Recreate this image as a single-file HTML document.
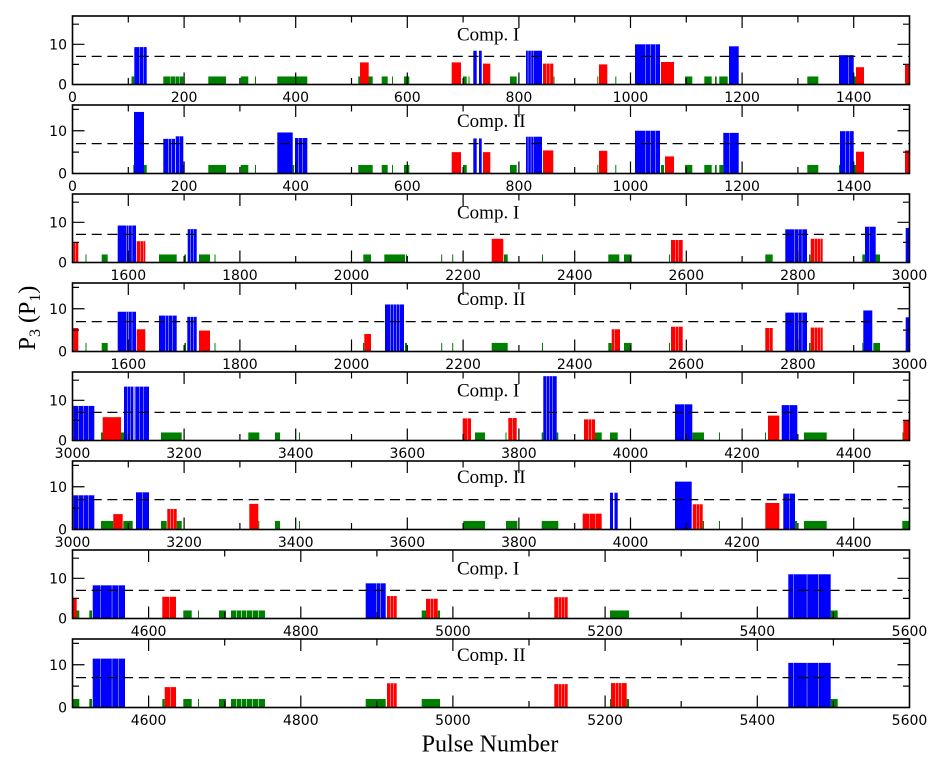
<!DOCTYPE html>
<html><head><meta charset="utf-8"><style>
html,body{margin:0;padding:0;background:#fff;}
svg{display:block;}
.tk{font-family:"DejaVu Sans","Liberation Sans",sans-serif;font-size:14px;fill:#000;}
.cp{font-family:"Liberation Serif",serif;font-size:19px;fill:#000;}
.lb{font-family:"Liberation Serif",serif;fill:#000;}
</style></head><body>
<svg width="937" height="763" viewBox="0 0 937 763" xmlns="http://www.w3.org/2000/svg">
<defs>
<path id="tA" fill="none" stroke="#000" stroke-width="1.2" d="M184.1 0v12M295.7 0v12M407.3 0v12M518.9 0v12M630.5 0v12M742.1 0v12M853.7 0v12M128.3 0v6.5M239.9 0v6.5M351.5 0v6.5M463.1 0v6.5M574.7 0v6.5M686.3 0v6.5M797.9 0v6.5M184.1 68.5v-12M295.7 68.5v-12M407.3 68.5v-12M518.9 68.5v-12M630.5 68.5v-12M742.1 68.5v-12M853.7 68.5v-12M128.3 68.5v-6.5M239.9 68.5v-6.5M351.5 68.5v-6.5M463.1 68.5v-6.5M574.7 68.5v-6.5M686.3 68.5v-6.5M797.9 68.5v-6.5"/>
<path id="tB" fill="none" stroke="#000" stroke-width="1.2" d="M128.3 0v12M239.9 0v12M351.5 0v12M463.1 0v12M574.7 0v12M686.3 0v12M797.9 0v12M184.1 0v6.5M295.7 0v6.5M407.3 0v6.5M518.9 0v6.5M630.5 0v6.5M742.1 0v6.5M853.7 0v6.5M128.3 68.5v-12M239.9 68.5v-12M351.5 68.5v-12M463.1 68.5v-12M574.7 68.5v-12M686.3 68.5v-12M797.9 68.5v-12M184.1 68.5v-6.5M295.7 68.5v-6.5M407.3 68.5v-6.5M518.9 68.5v-6.5M630.5 68.5v-6.5M742.1 68.5v-6.5M853.7 68.5v-6.5"/>
<path id="tC" fill="none" stroke="#000" stroke-width="1.2" d="M148.6 0v12M300.8 0v12M452.9 0v12M605.1 0v12M757.3 0v12M224.7 0v6.5M376.9 0v6.5M529 0v6.5M681.2 0v6.5M833.4 0v6.5M148.6 68.5v-12M300.8 68.5v-12M452.9 68.5v-12M605.1 68.5v-12M757.3 68.5v-12M224.7 68.5v-6.5M376.9 68.5v-6.5M529 68.5v-6.5M681.2 68.5v-6.5M833.4 68.5v-6.5"/>
<g id="yI">
<line x1="72.5" y1="40.36" x2="909.5" y2="40.36" stroke="#000" stroke-width="1.3" stroke-dasharray="10 5.7" stroke-dashoffset="12.2"/>
<path fill="none" stroke="#000" stroke-width="1.2" d="M72.5 28.3h12M72.5 48.4h6.5M72.5 8.2h6.5M909.5 28.3h-12M909.5 48.4h-6.5M909.5 8.2h-6.5"/>
<rect x="72.5" y="0" width="837" height="68.5" fill="none" stroke="#000" stroke-width="1.6"/>
</g>
<g id="yII">
<line x1="72.5" y1="38.6" x2="909.5" y2="38.6" stroke="#000" stroke-width="1.3" stroke-dasharray="10 5.7" stroke-dashoffset="12.2"/>
<path fill="none" stroke="#000" stroke-width="1.2" d="M72.5 25.75h12M72.5 47.1h6.5M72.5 4.4h6.5M909.5 25.75h-12M909.5 47.1h-6.5M909.5 4.4h-6.5"/>
<rect x="72.5" y="0" width="837" height="68.5" fill="none" stroke="#000" stroke-width="1.6"/>
</g>
</defs>

<!-- Panel 1 -->
<g transform="translate(0,84.5) scale(1,-4.02)">
<g fill="#008000">
<rect x="131.5" y="0" width="2.8" height="2"/><rect x="163.3" y="0" width="20" height="2"/><rect x="208.3" y="0" width="17.7" height="2"/><rect x="240.7" y="0" width="7.6" height="2"/><rect x="255" y="0" width="1" height="2"/><rect x="277.3" y="0" width="30" height="2"/><rect x="358.3" y="0" width="14.4" height="2"/><rect x="381.7" y="0" width="6" height="2"/><rect x="392" y="0" width="1" height="2"/><rect x="404" y="0" width="5.3" height="2"/><rect x="463" y="0" width="3.7" height="2"/><rect x="468.5" y="0" width="1" height="2"/><rect x="510" y="0" width="6.7" height="2"/><rect x="553.5" y="0" width="1" height="2"/><rect x="597.3" y="0" width="1" height="2"/><rect x="615.3" y="0" width="1" height="2"/><rect x="685" y="0" width="7.3" height="2"/><rect x="704.3" y="0" width="7.4" height="2"/><rect x="715" y="0" width="1.7" height="2"/><rect x="719.3" y="0" width="8.4" height="2"/><rect x="807.3" y="0" width="11" height="2"/><rect x="853.3" y="0" width="2.7" height="2"/>
</g>
<g fill="#ff0000">
<rect x="360" y="0" width="8.7" height="5.5"/><rect x="451.7" y="0" width="9.3" height="5.5"/><rect x="483" y="0" width="7.3" height="5.2"/><rect x="543" y="0" width="10.3" height="5.2"/><rect x="599" y="0" width="8.3" height="5"/><rect x="661" y="0" width="13" height="5.6"/><rect x="856" y="0" width="8" height="4.3"/><rect x="905" y="0" width="4.3" height="5"/>
</g>
<g fill="#0000ff">
<rect x="134.3" y="0" width="12.4" height="9.3"/><rect x="473.3" y="0" width="3.4" height="8.4"/><rect x="479" y="0" width="2.7" height="8.4"/><rect x="526" y="0" width="16" height="8.4"/><rect x="635" y="0" width="25" height="10"/><rect x="729" y="0" width="9.7" height="9.5"/><rect x="839" y="0" width="14.7" height="7.3"/>
</g>
<g fill="#fff" opacity="0.6">
<rect x="139.3" y="0" width="0.7" height="9.3"/><rect x="143.3" y="0" width="0.7" height="9.3"/><rect x="527.7" y="0" width="0.7" height="8.4"/><rect x="530.7" y="0" width="0.7" height="8.4"/><rect x="533.3" y="0" width="0.7" height="8.4"/><rect x="645" y="0" width="0.7" height="10"/><rect x="650" y="0" width="0.7" height="10"/><rect x="655" y="0" width="0.7" height="10"/><rect x="848" y="0" width="0.7" height="7.3"/><rect x="546" y="0" width="0.7" height="5.2"/><rect x="549.5" y="0" width="0.7" height="5.2"/><rect x="170" y="0" width="0.7" height="2"/><rect x="175" y="0" width="0.7" height="2"/><rect x="179" y="0" width="0.7" height="2"/>
</g>
</g>

<!-- Panel 2 -->
<g transform="translate(0,173.5) scale(1,-4.275)">
<g fill="#008000">
<rect x="133.3" y="0" width="13.4" height="2"/><rect x="182.5" y="0" width="1" height="2"/><rect x="208.3" y="0" width="17.7" height="2"/><rect x="240.7" y="0" width="7.6" height="2"/><rect x="255" y="0" width="1" height="2"/><rect x="292.7" y="0" width="1.5" height="2"/><rect x="358.3" y="0" width="14.4" height="2"/><rect x="381.7" y="0" width="6" height="2"/><rect x="392" y="0" width="1" height="2"/><rect x="404" y="0" width="5.3" height="2"/><rect x="463" y="0" width="3.7" height="2"/><rect x="510" y="0" width="6.7" height="2"/><rect x="597.3" y="0" width="1" height="2"/><rect x="615.3" y="0" width="1" height="2"/><rect x="661" y="0" width="3" height="2"/><rect x="685" y="0" width="7.3" height="2"/><rect x="704.3" y="0" width="7.4" height="2"/><rect x="715" y="0" width="1.7" height="2"/><rect x="719.3" y="0" width="4" height="2"/><rect x="807.3" y="0" width="11" height="2"/><rect x="839" y="0" width="1" height="2"/><rect x="853.3" y="0" width="2.7" height="2"/>
</g>
<g fill="#ff0000">
<rect x="451.7" y="0" width="9.3" height="5"/><rect x="483" y="0" width="7.3" height="5"/><rect x="543" y="0" width="10.3" height="5.4"/><rect x="599" y="0" width="8.3" height="5.3"/><rect x="665" y="0" width="9" height="4"/><rect x="856" y="0" width="8" height="5.1"/><rect x="905" y="0" width="4.3" height="5.4"/>
</g>
<g fill="#0000ff">
<rect x="134" y="0" width="10" height="14.4"/><rect x="163.3" y="0" width="11.7" height="8.1"/><rect x="175.7" y="0" width="7.6" height="8.7"/><rect x="277.3" y="0" width="15.4" height="9.6"/><rect x="295" y="0" width="12.3" height="8.3"/><rect x="473.3" y="0" width="3.4" height="8.2"/><rect x="479" y="0" width="2.7" height="8.2"/><rect x="526" y="0" width="16" height="8.6"/><rect x="635" y="0" width="25" height="10"/><rect x="723.3" y="0" width="15.4" height="9.5"/><rect x="840" y="0" width="13.7" height="9.9"/>
</g>
<g fill="#fff" opacity="0.6">
<rect x="168" y="0" width="0.8" height="8.1"/><rect x="171" y="0" width="0.8" height="8.1"/><rect x="179" y="0" width="0.7" height="8.7"/><rect x="527.7" y="0" width="0.7" height="8.6"/><rect x="530.7" y="0" width="0.7" height="8.6"/><rect x="533.3" y="0" width="0.7" height="8.6"/><rect x="645" y="0" width="0.7" height="10"/><rect x="650" y="0" width="0.7" height="10"/><rect x="655" y="0" width="0.7" height="10"/><rect x="729" y="0" width="0.7" height="9.5"/><rect x="845" y="0" width="0.7" height="9.9"/><rect x="849" y="0" width="0.7" height="9.9"/><rect x="298" y="0" width="0.7" height="8.3"/><rect x="302" y="0" width="0.7" height="8.3"/>
</g>
</g>

<!-- Panel 3 -->
<g transform="translate(0,262.5) scale(1,-4.02)">
<g fill="#008000">
<rect x="85.5" y="0" width="1" height="2"/><rect x="101.7" y="0" width="6" height="2"/><rect x="159" y="0" width="17.7" height="2"/><rect x="184.3" y="0" width="1.7" height="2"/><rect x="199" y="0" width="11" height="2"/><rect x="214.5" y="0" width="1" height="2"/><rect x="363.3" y="0" width="7.7" height="2"/><rect x="384.3" y="0" width="20.7" height="2"/><rect x="406" y="0" width="1" height="2"/><rect x="441.2" y="0" width="1" height="2"/><rect x="452.2" y="0" width="1" height="2"/><rect x="504" y="0" width="3.7" height="2"/><rect x="542" y="0" width="1" height="2"/><rect x="608.3" y="0" width="11" height="2"/><rect x="624" y="0" width="7.7" height="2"/><rect x="669" y="0" width="1" height="2"/><rect x="765.3" y="0" width="7.4" height="2"/><rect x="809" y="0" width="1.5" height="2"/><rect x="862.3" y="0" width="17.7" height="2"/>
</g>
<g fill="#ff0000">
<rect x="73.3" y="0" width="5" height="5"/><rect x="136.7" y="0" width="8.6" height="5.3"/><rect x="491.7" y="0" width="11.6" height="5.9"/><rect x="671" y="0" width="11.7" height="5.6"/><rect x="810.7" y="0" width="12" height="5.9"/>
</g>
<g fill="#0000ff">
<rect x="117.7" y="0" width="18.3" height="9.2"/><rect x="187.7" y="0" width="9" height="8.3"/><rect x="785.3" y="0" width="21.7" height="8.25"/><rect x="865" y="0" width="10.7" height="8.9"/><rect x="905.7" y="0" width="3.8" height="8.6"/>
</g>
<g fill="#fff" opacity="0.6">
<rect x="126" y="0" width="0.7" height="9.2"/><rect x="128.3" y="0" width="0.7" height="9.2"/><rect x="131.7" y="0" width="0.7" height="9.2"/><rect x="190" y="0" width="0.7" height="8.3"/><rect x="193" y="0" width="0.7" height="8.3"/><rect x="794.3" y="0" width="0.7" height="8.25"/><rect x="798.3" y="0" width="0.7" height="8.25"/><rect x="801.7" y="0" width="0.7" height="8.25"/><rect x="869" y="0" width="0.7" height="8.9"/><rect x="675" y="0" width="0.7" height="5.6"/><rect x="678" y="0" width="0.7" height="5.6"/><rect x="814" y="0" width="0.7" height="5.9"/><rect x="817" y="0" width="0.7" height="5.9"/><rect x="820" y="0" width="0.7" height="5.9"/><rect x="140" y="0" width="0.7" height="5.3"/><rect x="143" y="0" width="0.7" height="5.3"/><rect x="75" y="0" width="0.7" height="5"/>
</g>
</g>

<!-- Panel 4 -->
<g transform="translate(0,351.5) scale(1,-4.275)">
<g fill="#008000">
<rect x="85.5" y="0" width="1" height="2"/><rect x="101.7" y="0" width="6" height="2"/><rect x="184.3" y="0" width="1.7" height="2"/><rect x="214.5" y="0" width="1" height="2"/><rect x="363" y="0" width="1.3" height="2"/><rect x="405" y="0" width="2" height="2"/><rect x="441.2" y="0" width="1" height="2"/><rect x="452.2" y="0" width="1" height="2"/><rect x="491.7" y="0" width="16" height="2"/><rect x="542" y="0" width="1" height="2"/><rect x="608.3" y="0" width="3.4" height="2"/><rect x="624" y="0" width="7.7" height="2"/><rect x="669" y="0" width="1" height="2"/><rect x="809" y="0" width="1.5" height="2"/><rect x="862.3" y="0" width="1" height="2"/><rect x="873.3" y="0" width="6.7" height="2"/>
</g>
<g fill="#ff0000">
<rect x="73.3" y="0" width="5" height="5.5"/><rect x="136.7" y="0" width="8.6" height="5.2"/><rect x="199" y="0" width="11" height="4.9"/><rect x="364.3" y="0" width="6.7" height="4.1"/><rect x="611.7" y="0" width="8.3" height="5.2"/><rect x="671" y="0" width="11.7" height="5.8"/><rect x="765.3" y="0" width="7.4" height="5.5"/><rect x="810.7" y="0" width="12" height="5.6"/>
</g>
<g fill="#0000ff">
<rect x="117.7" y="0" width="18.3" height="9.3"/><rect x="159" y="0" width="17.7" height="8.4"/><rect x="187.3" y="0" width="9.4" height="8.1"/><rect x="385" y="0" width="19" height="11"/><rect x="785.3" y="0" width="21.7" height="9.1"/><rect x="863.3" y="0" width="9" height="9.6"/><rect x="905.7" y="0" width="3.8" height="8"/>
</g>
<g fill="#fff" opacity="0.6">
<rect x="126" y="0" width="0.7" height="9.3"/><rect x="128.3" y="0" width="0.7" height="9.3"/><rect x="131.7" y="0" width="0.7" height="9.3"/><rect x="165" y="0" width="0.7" height="8.4"/><rect x="168" y="0" width="0.7" height="8.4"/><rect x="172" y="0" width="0.7" height="8.4"/><rect x="190" y="0" width="0.7" height="8.1"/><rect x="193" y="0" width="0.7" height="8.1"/><rect x="390" y="0" width="0.7" height="11"/><rect x="393" y="0" width="0.7" height="11"/><rect x="396" y="0" width="0.7" height="11"/><rect x="399" y="0" width="0.7" height="11"/><rect x="794.3" y="0" width="0.7" height="9.1"/><rect x="798.3" y="0" width="0.7" height="9.1"/><rect x="801.7" y="0" width="0.7" height="9.1"/><rect x="675" y="0" width="0.7" height="5.8"/><rect x="678" y="0" width="0.7" height="5.8"/><rect x="814" y="0" width="0.7" height="5.6"/><rect x="817" y="0" width="0.7" height="5.6"/><rect x="820" y="0" width="0.7" height="5.6"/><rect x="614" y="0" width="0.7" height="5.2"/><rect x="769" y="0" width="0.7" height="5.5"/>
</g>
</g>

<!-- Panel 5 -->
<g transform="translate(0,440.5) scale(1,-4.02)">
<g fill="#008000">
<rect x="101" y="0" width="2.3" height="2"/><rect x="121" y="0" width="3" height="2"/><rect x="161" y="0" width="20.7" height="2"/><rect x="248.3" y="0" width="11" height="2"/><rect x="275" y="0" width="5" height="2"/><rect x="299" y="0" width="1" height="2"/><rect x="475" y="0" width="10" height="2"/><rect x="505.5" y="0" width="1" height="2"/><rect x="541.7" y="0" width="1.6" height="2"/><rect x="556.7" y="0" width="1.6" height="2"/><rect x="595" y="0" width="6.7" height="2"/><rect x="610" y="0" width="7.7" height="2"/><rect x="692.3" y="0" width="11.7" height="2"/><rect x="719" y="0" width="1" height="2"/><rect x="765" y="0" width="1" height="2"/><rect x="804" y="0" width="22.7" height="2"/><rect x="902.5" y="0" width="1" height="2"/>
</g>
<g fill="#ff0000">
<rect x="102.7" y="0" width="18.3" height="5.8"/><rect x="462.7" y="0" width="8.3" height="5.5"/><rect x="508.3" y="0" width="8.4" height="5.6"/><rect x="584" y="0" width="11" height="5.25"/><rect x="768" y="0" width="11.3" height="6.2"/><rect x="903.3" y="0" width="6" height="5"/>
</g>
<g fill="#0000ff">
<rect x="73.3" y="0" width="21" height="8.6"/><rect x="124" y="0" width="25" height="13.4"/><rect x="543.3" y="0" width="13.4" height="16"/><rect x="675" y="0" width="17.3" height="9"/><rect x="781.7" y="0" width="15.6" height="8.8"/>
</g>
<g fill="#fff" opacity="0.6">
<rect x="78" y="0" width="0.7" height="8.6"/><rect x="83" y="0" width="0.7" height="8.6"/><rect x="88" y="0" width="0.7" height="8.6"/><rect x="127" y="0" width="0.7" height="13.4"/><rect x="130" y="0" width="0.7" height="13.4"/><rect x="133" y="0" width="2.5" height="13.4"/><rect x="139" y="0" width="0.7" height="13.4"/><rect x="143" y="0" width="0.7" height="13.4"/><rect x="546" y="0" width="0.7" height="16"/><rect x="549" y="0" width="0.7" height="16"/><rect x="552" y="0" width="0.7" height="16"/><rect x="684" y="0" width="0.7" height="9"/><rect x="789" y="0" width="0.7" height="8.8"/><rect x="467" y="0" width="0.7" height="5.5"/><rect x="512" y="0" width="0.7" height="5.6"/><rect x="588" y="0" width="0.7" height="5.25"/><rect x="591" y="0" width="0.7" height="5.25"/>
</g>
</g>

<!-- Panel 6 -->
<g transform="translate(0,529.5) scale(1,-4.275)">
<g fill="#008000">
<rect x="101" y="0" width="12.3" height="2"/><rect x="123.3" y="0" width="9.4" height="2"/><rect x="161" y="0" width="5.7" height="2"/><rect x="176.7" y="0" width="5" height="2"/><rect x="258.3" y="0" width="1" height="2"/><rect x="275" y="0" width="5" height="2"/><rect x="299" y="0" width="1" height="2"/><rect x="463.3" y="0" width="21.7" height="2"/><rect x="506" y="0" width="11.3" height="2"/><rect x="541.7" y="0" width="16.6" height="2"/><rect x="702.7" y="0" width="1.3" height="2"/><rect x="719" y="0" width="1" height="2"/><rect x="795" y="0" width="2" height="2"/><rect x="804" y="0" width="22.7" height="2"/><rect x="902.3" y="0" width="7" height="2"/>
</g>
<g fill="#ff0000">
<rect x="113.3" y="0" width="9.4" height="3.6"/><rect x="167.3" y="0" width="9.4" height="4.8"/><rect x="249.3" y="0" width="9" height="6"/><rect x="582.7" y="0" width="19" height="3.7"/><rect x="692.7" y="0" width="10" height="5.9"/><rect x="765.3" y="0" width="14" height="6.2"/>
</g>
<g fill="#0000ff">
<rect x="73.3" y="0" width="21" height="8"/><rect x="136" y="0" width="13" height="8.7"/><rect x="610" y="0" width="3" height="8.6"/><rect x="614.5" y="0" width="3.2" height="8.6"/><rect x="675" y="0" width="16.7" height="11.2"/><rect x="783.3" y="0" width="11.7" height="8.4"/>
</g>
<g fill="#fff" opacity="0.6">
<rect x="78" y="0" width="0.7" height="8"/><rect x="83" y="0" width="0.7" height="8"/><rect x="88" y="0" width="0.7" height="8"/><rect x="142" y="0" width="0.7" height="8.7"/><rect x="589" y="0" width="0.7" height="3.7"/><rect x="595" y="0" width="0.7" height="3.7"/><rect x="170" y="0" width="0.7" height="4.8"/><rect x="173" y="0" width="0.7" height="4.8"/><rect x="696" y="0" width="0.7" height="5.9"/><rect x="699" y="0" width="0.7" height="5.9"/><rect x="789" y="0" width="0.7" height="8.4"/>
</g>
</g>

<!-- Panel 7 -->
<g transform="translate(0,618.5) scale(1,-4.02)">
<g fill="#008000">
<rect x="76" y="0" width="3.3" height="2"/><rect x="89.3" y="0" width="2.7" height="2"/><rect x="183.3" y="0" width="8.4" height="2"/><rect x="198" y="0" width="1" height="2"/><rect x="219" y="0" width="7" height="2"/><rect x="231" y="0" width="34" height="2"/><rect x="421.7" y="0" width="5" height="2"/><rect x="437.7" y="0" width="2.3" height="2"/><rect x="610" y="0" width="19" height="2"/><rect x="830.7" y="0" width="7" height="2"/>
</g>
<g fill="#ff0000">
<rect x="72.7" y="0" width="4" height="5"/><rect x="162.3" y="0" width="13.7" height="5.4"/><rect x="387" y="0" width="9.7" height="5.6"/><rect x="426" y="0" width="11.7" height="4.9"/><rect x="554.3" y="0" width="13.4" height="5.3"/>
</g>
<g fill="#0000ff">
<rect x="92.7" y="0" width="32.3" height="8.25"/><rect x="365.7" y="0" width="20" height="8.75"/><rect x="788.3" y="0" width="42.4" height="11"/>
</g>
<g fill="#fff" opacity="0.6">
<rect x="100" y="0" width="0.7" height="8.25"/><rect x="111.7" y="0" width="0.7" height="8.25"/><rect x="118.3" y="0" width="0.7" height="8.25"/><rect x="376" y="0" width="0.7" height="8.75"/><rect x="380" y="0" width="0.7" height="8.75"/><rect x="793.3" y="0" width="0.7" height="11"/><rect x="806.7" y="0" width="0.7" height="11"/><rect x="818.3" y="0" width="0.7" height="11"/><rect x="169" y="0" width="0.7" height="5.4"/><rect x="390" y="0" width="0.7" height="5.6"/><rect x="393" y="0" width="0.7" height="5.6"/><rect x="430" y="0" width="0.7" height="4.9"/><rect x="433" y="0" width="0.7" height="4.9"/><rect x="558" y="0" width="0.7" height="5.3"/><rect x="561" y="0" width="0.7" height="5.3"/><rect x="564" y="0" width="0.7" height="5.3"/><rect x="236" y="0" width="1" height="2"/><rect x="241" y="0" width="1" height="2"/><rect x="246" y="0" width="1" height="2"/><rect x="252" y="0" width="1" height="2"/><rect x="258" y="0" width="1" height="2"/>
</g>
</g>

<!-- Panel 8 -->
<g transform="translate(0,707.5) scale(1,-4.25)">
<g fill="#008000">
<rect x="72.7" y="0" width="6.6" height="2"/><rect x="89.3" y="0" width="2.7" height="2"/><rect x="162.3" y="0" width="2.4" height="2"/><rect x="183.3" y="0" width="8.4" height="2"/><rect x="198" y="0" width="1" height="2"/><rect x="219" y="0" width="7" height="2"/><rect x="231" y="0" width="34" height="2"/><rect x="365.7" y="0" width="20" height="2"/><rect x="421.7" y="0" width="18.3" height="2"/><rect x="610" y="0" width="1" height="2"/><rect x="626.7" y="0" width="2.3" height="2"/><rect x="830.7" y="0" width="7" height="2"/>
</g>
<g fill="#ff0000">
<rect x="164.7" y="0" width="11.3" height="4.8"/><rect x="387" y="0" width="9.7" height="5.7"/><rect x="554.3" y="0" width="13.4" height="5.5"/><rect x="611" y="0" width="15.7" height="5.75"/>
</g>
<g fill="#0000ff">
<rect x="92.7" y="0" width="32.3" height="11.5"/><rect x="788.3" y="0" width="42.4" height="10.5"/>
</g>
<g fill="#fff" opacity="0.6">
<rect x="100" y="0" width="0.7" height="11.5"/><rect x="111.7" y="0" width="0.7" height="11.5"/><rect x="118.3" y="0" width="0.7" height="11.5"/><rect x="793.3" y="0" width="0.7" height="10.5"/><rect x="806.7" y="0" width="0.7" height="10.5"/><rect x="818.3" y="0" width="0.7" height="10.5"/><rect x="390" y="0" width="0.7" height="5.7"/><rect x="393" y="0" width="0.7" height="5.7"/><rect x="558" y="0" width="0.7" height="5.5"/><rect x="561" y="0" width="0.7" height="5.5"/><rect x="564" y="0" width="0.7" height="5.5"/><rect x="615" y="0" width="0.7" height="5.75"/><rect x="618" y="0" width="0.7" height="5.75"/><rect x="621" y="0" width="0.7" height="5.75"/><rect x="170" y="0" width="0.7" height="4.8"/><rect x="236" y="0" width="1" height="2"/><rect x="241" y="0" width="1" height="2"/><rect x="246" y="0" width="1" height="2"/><rect x="252" y="0" width="1" height="2"/><rect x="258" y="0" width="1" height="2"/>
</g>
</g>

<!-- axes, ticks, dashed lines -->
<use href="#yI" transform="translate(0,16)"/><use href="#tA" transform="translate(0,16)"/>
<use href="#yII" transform="translate(0,105)"/><use href="#tA" transform="translate(0,105)"/>
<use href="#yI" transform="translate(0,194)"/><use href="#tB" transform="translate(0,194)"/>
<use href="#yII" transform="translate(0,283)"/><use href="#tB" transform="translate(0,283)"/>
<use href="#yI" transform="translate(0,372)"/><use href="#tA" transform="translate(0,372)"/>
<use href="#yII" transform="translate(0,461)"/><use href="#tA" transform="translate(0,461)"/>
<use href="#yI" transform="translate(0,550)"/><use href="#tC" transform="translate(0,550)"/>
<use href="#yII" transform="translate(0,639)"/><use href="#tC" transform="translate(0,639)"/>

<!-- Comp labels -->
<text class="cp" x="457" y="40.7">Comp. I</text>
<text class="cp" x="457" y="126.9">Comp. II</text>
<text class="cp" x="457" y="218.7">Comp. I</text>
<text class="cp" x="457" y="304.9">Comp. II</text>
<text class="cp" x="457" y="396.7">Comp. I</text>
<text class="cp" x="457" y="482.9">Comp. II</text>
<text class="cp" x="457" y="574.7">Comp. I</text>
<text class="cp" x="457" y="660.9">Comp. II</text>

<!-- Y tick labels -->
<g class="tk" text-anchor="end">
<text x="67" y="89.5">0</text><text x="67" y="49.3">10</text>
<text x="67" y="178.5">0</text><text x="67" y="135.75">10</text>
<text x="67" y="267.5">0</text><text x="67" y="227.3">10</text>
<text x="67" y="356.5">0</text><text x="67" y="313.75">10</text>
<text x="67" y="445.5">0</text><text x="67" y="405.3">10</text>
<text x="67" y="534.5">0</text><text x="67" y="491.75">10</text>
<text x="67" y="623.5">0</text><text x="67" y="583.3">10</text>
<text x="67" y="712.5">0</text><text x="67" y="669.75">10</text>
</g>

<!-- X tick labels -->
<g class="tk" text-anchor="middle">
<text x="72.5" y="102.2">0</text><text x="184.1" y="102.2">200</text><text x="295.7" y="102.2">400</text><text x="407.3" y="102.2">600</text><text x="518.9" y="102.2">800</text><text x="630.5" y="102.2">1000</text><text x="742.1" y="102.2">1200</text><text x="853.7" y="102.2">1400</text>
<text x="72.5" y="191.2">0</text><text x="184.1" y="191.2">200</text><text x="295.7" y="191.2">400</text><text x="407.3" y="191.2">600</text><text x="518.9" y="191.2">800</text><text x="630.5" y="191.2">1000</text><text x="742.1" y="191.2">1200</text><text x="853.7" y="191.2">1400</text>
<text x="128.3" y="280.2">1600</text><text x="239.9" y="280.2">1800</text><text x="351.5" y="280.2">2000</text><text x="463.1" y="280.2">2200</text><text x="574.7" y="280.2">2400</text><text x="686.3" y="280.2">2600</text><text x="797.9" y="280.2">2800</text><text x="909.5" y="280.2">3000</text>
<text x="128.3" y="369.2">1600</text><text x="239.9" y="369.2">1800</text><text x="351.5" y="369.2">2000</text><text x="463.1" y="369.2">2200</text><text x="574.7" y="369.2">2400</text><text x="686.3" y="369.2">2600</text><text x="797.9" y="369.2">2800</text><text x="909.5" y="369.2">3000</text>
<text x="72.5" y="458.2">3000</text><text x="184.1" y="458.2">3200</text><text x="295.7" y="458.2">3400</text><text x="407.3" y="458.2">3600</text><text x="518.9" y="458.2">3800</text><text x="630.5" y="458.2">4000</text><text x="742.1" y="458.2">4200</text><text x="853.7" y="458.2">4400</text>
<text x="72.5" y="547.2">3000</text><text x="184.1" y="547.2">3200</text><text x="295.7" y="547.2">3400</text><text x="407.3" y="547.2">3600</text><text x="518.9" y="547.2">3800</text><text x="630.5" y="547.2">4000</text><text x="742.1" y="547.2">4200</text><text x="853.7" y="547.2">4400</text>
<text x="148.6" y="636.2">4600</text><text x="300.8" y="636.2">4800</text><text x="452.9" y="636.2">5000</text><text x="605.1" y="636.2">5200</text><text x="757.3" y="636.2">5400</text><text x="909.5" y="636.2">5600</text>
<text x="148.6" y="725.2">4600</text><text x="300.8" y="725.2">4800</text><text x="452.9" y="725.2">5000</text><text x="605.1" y="725.2">5200</text><text x="757.3" y="725.2">5400</text><text x="909.5" y="725.2">5600</text>
</g>

<!-- axis labels -->
<text class="lb" x="490" y="751.7" font-size="24" text-anchor="middle">Pulse Number</text>
<text class="lb" transform="translate(35,318) rotate(-90)" font-size="24" text-anchor="middle">P<tspan font-size="16" dy="5">3</tspan><tspan dy="-5"> (P</tspan><tspan font-size="16" dy="5">1</tspan><tspan dy="-5">)</tspan></text>
</svg>
</body></html>
